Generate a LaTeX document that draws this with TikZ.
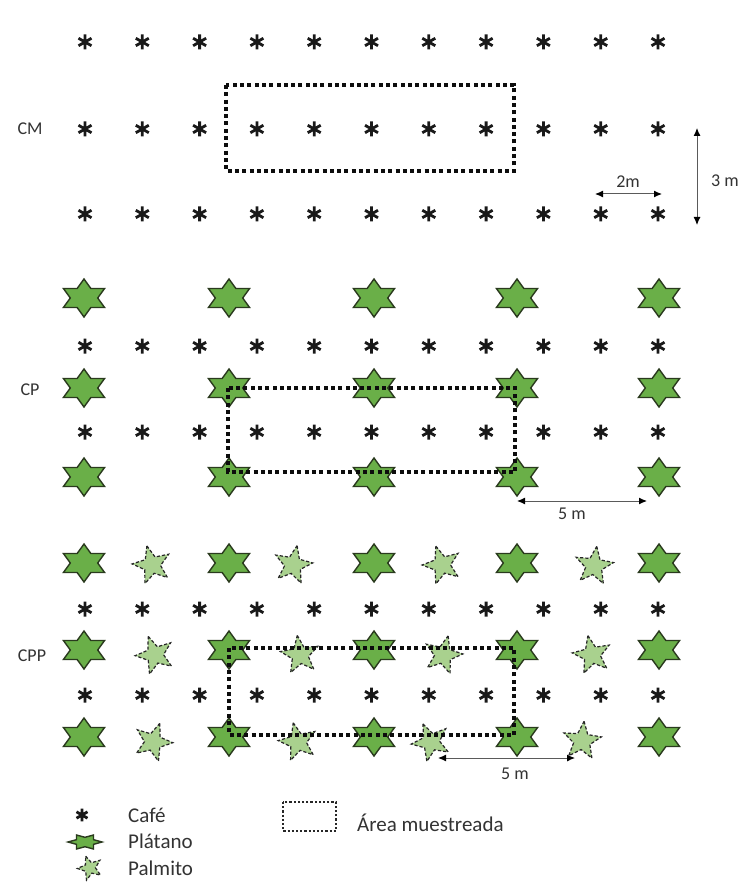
\documentclass[tikz,border=0pt]{standalone}
\usepackage{fontspec}
\setmainfont{Carlito}
\usetikzlibrary{arrows.meta}
\definecolor{platfill}{HTML}{6AAF48}
\definecolor{platline}{HTML}{2A3A1E}
\definecolor{palmfill}{HTML}{A9D18E}
\definecolor{txt}{HTML}{333333}
\definecolor{arrline}{HTML}{5A5A5A}
\tikzset{
  cafestyle/.style={line width=2.8pt, draw=black!90},
  platstyle/.style={fill=platfill, draw=platline, line width=1.4pt, line join=miter},
  palmstyle/.style={fill=palmfill, draw=black!85, line width=1.2pt, dash pattern=on 3.2pt off 2pt},
  areastyle/.style={draw=black!95, line width=4.2pt, dash pattern=on 4pt off 3.3pt},
  legareastyle/.style={draw=black!85, line width=2.4pt, dash pattern=on 2.2pt off 2pt},
  dimarrow/.style={draw=arrline, line width=1pt, {Latex[length=8pt,width=7pt,black]}-{Latex[length=8pt,width=7pt,black]}},
  lbl/.style={text=txt, font=\fontsize{18}{20}\selectfont, inner sep=0pt},
  leg/.style={text=txt, font=\fontsize{21}{24}\selectfont, inner sep=0pt, anchor=base west},
}
\newcommand\cafeat[3][1]{\draw[cafestyle] (#2,#3) +(0,-7.5*#1) -- +(0,7.5*#1) +(-6.5*#1,-3.75*#1) -- +(6.5*#1,3.75*#1) +(-6.5*#1,3.75*#1) -- +(6.5*#1,-3.75*#1);}
\newcommand\platat[2]{\draw[platstyle, shift={(#1,#2)}] (0,-19) -- (6.86,-9.5) -- (20.57,-9.5) -- (13.71,0) -- (20.57,9.5) -- (6.86,9.5) -- (0,19) -- (-6.86,9.5) -- (-20.57,9.5) -- (-13.71,0) -- (-20.57,-9.5) -- (-6.86,-9.5) -- cycle;}
\newcommand\palmat[4]{\draw[palmstyle, shift={(#1,#2)}, rotate=#3, scale=#4] (-90:18) -- (-54:7.8) -- (-18:18) -- (18:7.8) -- (54:18) -- (90:7.8) -- (126:18) -- (162:7.8) -- (198:18) -- (234:7.8) -- cycle;}
\begin{document}
\begin{tikzpicture}[x=1pt,y=-1pt]
\useasboundingbox (0,0) rectangle (743,882);
\fill[white] (0,0) rectangle (743,882);
% ---------------- CM ----------------
\foreach \r in {42,129,214}{
  \foreach \i in {0,...,10}{\pgfmathsetmacro\xx{85+57.3*\i}\cafeat{\xx}{\r}}}
\draw[areastyle] (226,85) rectangle (514,171);
\node[lbl] (cm) at (30,129) {CM};
\coordinate (a2l) at (595,194);
\coordinate (a2r) at (662,194);
\draw[dimarrow] (a2l) -- (a2r);
\node[lbl] (t2m) at (628,182) {2m};
\coordinate (a3t) at (697,128);
\coordinate (a3b) at (697,225);
\draw[dimarrow] (a3t) -- (a3b);
\node[lbl] (t3m) at (725,181) {3 m};
% ---------------- CP ----------------
\foreach \r in {346,432}{
  \foreach \i in {0,...,10}{\pgfmathsetmacro\xx{85+57.3*\i}\cafeat{\xx}{\r}}}
\foreach \r in {298,388,477}{
  \foreach \c in {84,229,374,517,659}{\platat{\c}{\r}}}
\draw[areastyle] (228,388) rectangle (515,472);
\node[lbl] (cp) at (30,390) {CP};
\coordinate (a5l) at (517,501);
\coordinate (a5r) at (647,501);
\draw[dimarrow] (a5l) -- (a5r);
\node[lbl] (t5m) at (572,514) {5 m};
% ---------------- CPP ----------------
\foreach \r in {609,695}{
  \foreach \i in {0,...,10}{\pgfmathsetmacro\xx{85+57.3*\i}\cafeat{\xx}{\r}}}
\foreach \r in {563,650,737}{
  \foreach \c in {84,229,374,517,659}{\platat{\c}{\r}}}
\palmat{152}{565}{15}{1.1}
\palmat{293}{565}{-12}{1.1}
\palmat{442}{565}{18}{1.1}
\palmat{594}{566}{-8}{1.1}
\palmat{155}{655}{20}{1.1}
\palmat{300}{655}{8}{1.1}
\palmat{443}{655}{-15}{1.1}
\palmat{592}{655}{12}{1.1}
\palmat{153}{742}{-20}{1.1}
\palmat{298}{742}{14}{1.1}
\palmat{431}{742}{24}{1.1}
\palmat{582}{741}{-6}{1.1}
\draw[areastyle] (229,648) rectangle (514,735);
\node[lbl] (cpp) at (32,656) {CPP};
\coordinate (b5l) at (438,758);
\coordinate (b5r) at (575,758);
\draw[dimarrow] (b5l) -- (b5r);
\node[lbl] (u5m) at (515,774) {5 m};
% ---------------- Legend ----------------
\cafeat[0.85]{82}{815}
\draw[platstyle, shift={(85,842)}] (17,0) -- (8.5,2.35) -- (8.5,7) -- (0,4.7) -- (-8.5,7) -- (-8.5,2.35) -- (-17,0) -- (-8.5,-2.35) -- (-8.5,-7) -- (0,-4.7) -- (8.5,-7) -- (8.5,-2.35) -- cycle;
\palmat{90}{868}{20}{0.7}
\node[leg] (lcafe) at (128,822) {Café};
\node[leg] (lplat) at (128,848) {Plátano};
\node[leg] (lpalm) at (128,875) {Palmito};
\draw[legareastyle] (283,802) rectangle (336,831);
\node[leg] (larea) at (357,831) {Área muestreada};
\end{tikzpicture}
\end{document}
